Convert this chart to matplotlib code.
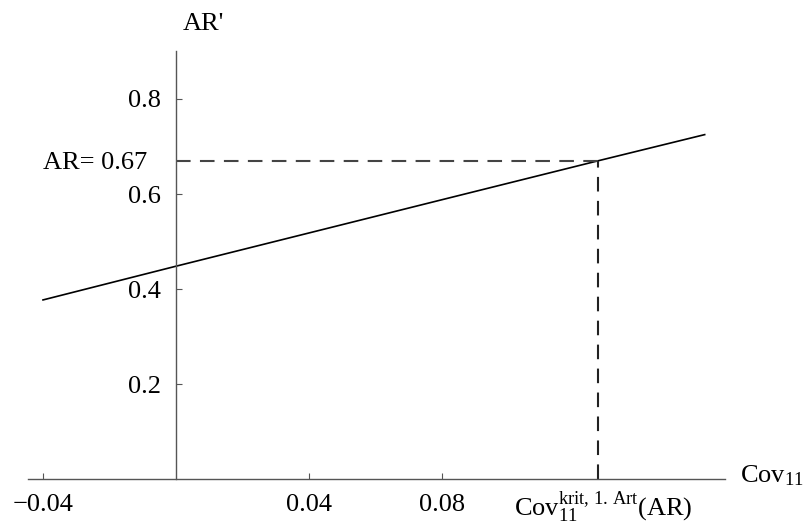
import numpy as np
import matplotlib
matplotlib.use("Agg")
import matplotlib.pyplot as plt

# -----------------------------
# Daten
# -----------------------------
cov_werte = [-0.04, 0.0, 0.04, 0.08, 0.127, 0.159]
ar_werte = [0.377, 0.448, 0.518, 0.588, 0.670, 0.725]

x_ticks = [-0.04, 0.04, 0.08]
x_tick_labels = ["\u22120.04", "0.04", "0.08"]
y_ticks = [0.2, 0.4, 0.6, 0.8]
y_tick_labels = ["0.2", "0.4", "0.6", "0.8"]

AR_KRIT = 0.67
COV_KRIT = 0.127

plt.rcParams["font.family"] = ["Liberation Serif", "DejaVu Serif"]
plt.rcParams["mathtext.fontset"] = "custom"
plt.rcParams["mathtext.rm"] = "Liberation Serif"
plt.rcParams["mathtext.it"] = "Liberation Serif:italic"

FS = 19

fig = plt.figure(figsize=(8.07, 5.26), dpi=100)
ax = fig.add_axes([0, 0, 1, 1])
ax.set_xlim(-0.05293, 0.18977)
ax.set_ylim(-0.0989, 1.0084)

# Achsen im Mathematica-Stil (Kreuzung im Ursprung)
achsen_farbe = "#555555"
for name in ["top", "right"]:
    ax.spines[name].set_visible(False)
ax.spines["left"].set_position(("data", 0))
ax.spines["bottom"].set_position(("data", 0))
ax.spines["left"].set_bounds(0, 0.9)
ax.spines["bottom"].set_bounds(-0.0445, 0.165)
for name in ["left", "bottom"]:
    ax.spines[name].set_color(achsen_farbe)
    ax.spines[name].set_linewidth(1.0)

ax.set_xticks(x_ticks)
ax.set_xticklabels(x_tick_labels)
ax.set_yticks(y_ticks)
ax.set_yticklabels(y_tick_labels)
ax.tick_params(axis="both", direction="in", length=4, width=0.8,
               color=achsen_farbe, labelsize=FS)
ax.tick_params(axis="x", pad=11)
ax.tick_params(axis="y", pad=11)

# Kurve
ax.plot(cov_werte, ar_werte, color="black", linewidth=1.2)

# gestrichelte Hilfslinien
ax.plot([0, COV_KRIT], [AR_KRIT, AR_KRIT], color="#444444",
        linewidth=1.5, dashes=(7, 4.5))
ax.plot([COV_KRIT, COV_KRIT], [0, AR_KRIT], color="#222222",
        linewidth=1.5, dashes=(7, 4.5))

# Beschriftungen
ax.text(0.002, 0.935, "AR'", fontsize=FS, ha="left", va="bottom")
ax.text(0.1695, 0.006, r"Cov$_{11}$", fontsize=FS, ha="left", va="center")
ax.text(-0.0085, AR_KRIT - 0.005, "AR= 0.67", fontsize=FS,
        ha="right", va="center")
ax.text(COV_KRIT + 0.0015, -0.022, r"Cov$_{11}^{\mathrm{krit,\,1.\,Art}}$(AR)",
        fontsize=FS, ha="center", va="top")

fig.savefig("out.png", dpi=100)
